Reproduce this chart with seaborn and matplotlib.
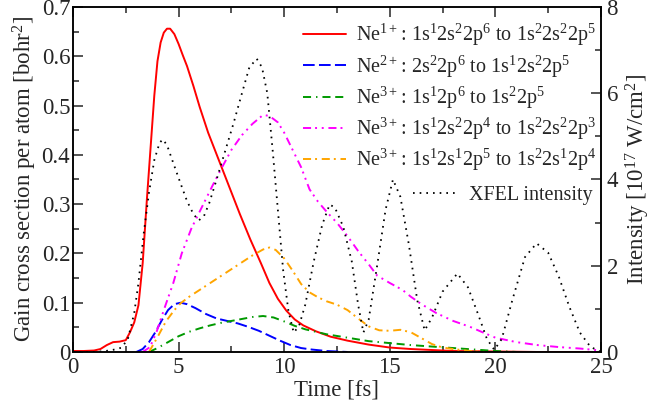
import numpy as np
import pandas as pd
import seaborn as sns
import matplotlib.pyplot as plt
from matplotlib.ticker import MultipleLocator, FormatStrFormatter

# time points and values (fs, bohr^2)
t_ne1 = [0, 0.5, 1.0, 1.3, 1.6, 1.9, 2.2, 2.5, 2.7, 2.9, 3.1, 3.3, 3.5, 3.7, 3.85, 4.0, 4.15,
         4.3, 4.45, 4.6, 4.8, 5.0, 5.2, 5.4, 5.7, 6.0, 6.4, 6.9, 7.4, 7.9, 8.4, 8.9, 9.3, 9.7,
         10.1, 10.5, 10.9, 11.5, 12.2, 13, 14, 15, 16, 17, 18, 20, 22, 25]
v_ne1 = [0.002, 0.002, 0.003, 0.006, 0.014, 0.02, 0.021, 0.024, 0.04, 0.06, 0.095, 0.18, 0.31,
         0.43, 0.52, 0.59, 0.628, 0.648, 0.656, 0.656, 0.645, 0.625, 0.602, 0.58, 0.54, 0.497,
         0.445, 0.39, 0.335, 0.28, 0.228, 0.18, 0.14, 0.108, 0.084, 0.066, 0.054, 0.042,
         0.031, 0.023, 0.015, 0.009, 0.006, 0.004, 0.002, 0.001, 0.0, 0.0]

t_ne2 = [3.0, 3.3, 3.6, 3.9, 4.2, 4.5, 4.8, 5.1, 5.4, 5.8, 6.3, 6.8, 7.3, 7.8, 8.3, 8.8, 9.3,
         9.8, 10.3, 10.8, 11.3, 12, 13]
v_ne2 = [0, 0.006, 0.02, 0.04, 0.064, 0.085, 0.097, 0.1, 0.097, 0.089, 0.077, 0.068, 0.063,
         0.058, 0.051, 0.043, 0.033, 0.023, 0.014, 0.008, 0.005, 0.002, 0.0]

t_ne3a = [3.6, 4.0, 4.5, 5.0, 5.5, 6.0, 6.5, 7.0, 7.5, 8.0, 8.5, 9.0, 9.5, 10.0, 10.5, 11.0,
          11.5, 12.0, 13.0, 14.0, 15.0, 16.0, 17.0, 18.0, 19.0, 20.0, 21.0]
v_ne3a = [0, 0.008, 0.02, 0.032, 0.041, 0.048, 0.054, 0.059, 0.063, 0.067, 0.071, 0.073, 0.07,
          0.062, 0.053, 0.046, 0.041, 0.036, 0.029, 0.022, 0.018, 0.014, 0.011, 0.008, 0.005,
          0.002, 0.0]

t_ne3b = [3.3, 3.65, 3.95, 4.3, 4.75, 5.15, 5.6, 6.0, 6.6, 7.0, 7.5, 8.0, 8.5, 9.0, 9.3, 9.7,
          10.0, 10.4, 10.8, 11.2, 11.6, 12.0, 12.5, 13.0, 13.5, 14.0, 14.4, 15.0, 15.6, 16.0,
          16.5, 17.2, 18.0, 18.8, 19.5, 20.0, 21.0, 22.0, 23.0, 24.0, 25.0]
v_ne3b = [0, 0.01, 0.04, 0.085, 0.14, 0.2, 0.25, 0.285, 0.337, 0.37, 0.41, 0.44, 0.463, 0.481,
          0.479, 0.466, 0.445, 0.41, 0.375, 0.33, 0.305, 0.285, 0.262, 0.235, 0.205, 0.178,
          0.155, 0.14, 0.126, 0.112, 0.097, 0.079, 0.063, 0.051, 0.038, 0.029, 0.02, 0.014,
          0.01, 0.007, 0.003]

t_ne3c = [3.6, 4.0, 4.4, 4.8, 5.1, 5.5, 6.0, 6.5, 7.0, 7.5, 8.0, 8.5, 9.0, 9.3, 9.6, 10.0, 10.4,
          10.8, 11.2, 11.6, 12.0, 12.5, 13.0, 13.5, 14.0, 14.5, 15.0, 15.5, 16.0, 16.5, 17.0,
          17.5, 18.0, 18.8, 19.5]
v_ne3c = [0, 0.03, 0.062, 0.085, 0.099, 0.112, 0.126, 0.14, 0.154, 0.168, 0.182, 0.196, 0.208,
          0.212, 0.207, 0.19, 0.165, 0.138, 0.121, 0.111, 0.103, 0.096, 0.085, 0.068, 0.052,
          0.044, 0.043, 0.045, 0.04, 0.028, 0.016, 0.009, 0.006, 0.002, 0.0]

# XFEL intensity (10^17 W/cm^2)
t_xfel = [0, 1.0, 1.5, 1.9, 2.3, 2.6, 2.9, 3.1, 3.35, 3.6, 3.85, 4.1, 4.25, 4.45, 4.75, 5.1, 5.4,
          5.7, 5.95, 6.2, 6.45, 6.8, 7.2, 7.6, 8.0, 8.35, 8.7, 8.95, 9.2, 9.45, 9.7, 9.95, 10.2,
          10.45, 10.7, 11.0, 11.4, 11.8, 12.15, 12.4, 12.8, 13.2, 13.5, 13.75, 14.0, 14.4, 14.8,
          15.15, 15.5, 15.9, 16.3, 16.65, 17.0, 17.5, 18.2, 18.7, 19.2, 19.6, 19.95, 20.3, 20.8,
          21.4, 21.95, 22.5, 23.0, 23.5, 24.0, 24.5, 25.0]
i_xfel = [0, 0.0, 0.02, 0.05, 0.1, 0.3, 0.9, 1.6, 2.75, 3.7, 4.45, 4.85, 4.93, 4.8, 4.38, 3.9,
          3.5, 3.2, 3.05, 3.15, 3.45, 4.0, 4.65, 5.3, 6.0, 6.6, 6.8, 6.6, 6.0, 4.7, 3.3, 1.9,
          0.95, 0.45, 0.6, 1.1, 2.1, 2.95, 3.42, 3.35, 2.9, 2.1, 1.1, 0.45, 0.75, 2.0, 3.3, 4.0,
          3.6, 2.5, 1.2, 0.5, 0.8, 1.4, 1.82, 1.5, 0.85, 0.3, 0.05, 0.3, 1.2, 2.2, 2.52, 2.3,
          1.75, 1.05, 0.45, 0.12, 0.0]

labels = [r'Ne$^{1+}\hspace{0.1}$: 1s$^1$2s$^2$2p$^6$ to 1s$^2$2s$^2$2p$^5$',
          r'Ne$^{2+}\hspace{0.1}$: 2s$^2$2p$^6$ to 1s$^1$2s$^2$2p$^5$',
          r'Ne$^{3+}\hspace{0.1}$: 1s$^1$2p$^6$ to 1s$^2$2p$^5$',
          r'Ne$^{3+}\hspace{0.1}$: 1s$^1$2s$^2$2p$^4$ to 1s$^2$2s$^2$2p$^3$',
          r'Ne$^{3+}\hspace{0.1}$: 1s$^1$2s$^1$2p$^5$ to 1s$^2$2s$^1$2p$^4$']

sns.set_style("ticks")
plt.rcParams['font.family'] = ['Liberation Serif', 'DejaVu Serif']
plt.rcParams['mathtext.fontset'] = 'custom'
plt.rcParams['mathtext.rm'] = 'Liberation Serif'
plt.rcParams['mathtext.it'] = 'Liberation Serif:italic'
plt.rcParams['mathtext.bf'] = 'Liberation Serif:bold'
plt.rcParams['lines.scale_dashes'] = False

fig = plt.figure(figsize=(6.51, 4.05), dpi=100)
ax = fig.add_axes([0.1121, 0.1309, 0.8111, 0.8518])
ax2 = ax.twinx()

series = [
    (t_ne1, v_ne1, 'red', '-'),
    (t_ne2, v_ne2, 'blue', (0, (8.4, 3.1))),
    (t_ne3a, v_ne3a, '#009900', (0, (5.8, 3.6, 1.0, 3.6, 5.8, 3.4))),
    (t_ne3b, v_ne3b, 'magenta', (0, (5.8, 2.9, 1.4, 3.4, 1.4, 3.4))),
    (t_ne3c, v_ne3c, 'orange', (0, (5.8, 2.9, 1.4, 3.4))),
]
for (t, v, c, ls), lab in zip(series, labels):
    sns.lineplot(x=t, y=v, ax=ax, color=c, linestyle=ls, lw=1.4, label=lab,
                 errorbar=None, sort=False)

sns.lineplot(x=t_xfel, y=i_xfel, ax=ax2, color='black', linestyle=(0, (1.2, 3.6)),
             lw=1.3, label='XFEL intensity', errorbar=None, sort=False)

ax.set_xlim(0, 25)
ax.set_ylim(0, 0.7)
ax2.set_ylim(0, 8)

fs = 16.5
ax.set_xlabel('Time [fs]', fontsize=fs, labelpad=1)
ax.set_ylabel(r'Gain cross section per atom [bohr$^2$]', fontsize=fs, labelpad=2)
ax2.set_ylabel(r'Intensity [10$^{17}$ W/cm$^2$]', fontsize=fs, rotation=90, labelpad=4)

ax.xaxis.set_major_locator(MultipleLocator(5))
ax.xaxis.set_minor_locator(MultipleLocator(2.5))
ax.yaxis.set_major_locator(MultipleLocator(0.1))
ax.yaxis.set_minor_locator(MultipleLocator(0.05))
ax.yaxis.set_major_formatter(FormatStrFormatter('%g'))
ax2.yaxis.set_major_locator(MultipleLocator(2))
ax2.yaxis.set_minor_locator(MultipleLocator(1))

ax.tick_params(which='both', direction='in', top=True, right=False, labelsize=fs,
               width=1.1, pad=2)
ax.tick_params(axis='x', which='both', pad=3.5)
ax.tick_params(which='major', length=7)
ax.tick_params(which='minor', length=4.5)
ax2.tick_params(which='both', direction='in', labelsize=fs, width=1.1, pad=4)
ax2.tick_params(which='major', length=7)
ax2.tick_params(which='minor', length=4.5)
for a in (ax, ax2):
    for s in a.spines.values():
        s.set_linewidth(1.1)
        s.set_color('black')

ax.legend(loc='upper right', bbox_to_anchor=(0.916, 0.945), bbox_transform=fig.transFigure,
          frameon=False, fontsize=14.5, handlelength=2.1, handletextpad=0.5,
          labelspacing=0.25, borderpad=0, borderaxespad=0)
ax2.legend(loc='upper right', bbox_to_anchor=(0.911, 0.540), bbox_transform=fig.transFigure,
           frameon=False, fontsize=14.5, handlelength=2.1, handletextpad=0.7,
           borderpad=0, borderaxespad=0)

plt.savefig('out.png', dpi=100)
